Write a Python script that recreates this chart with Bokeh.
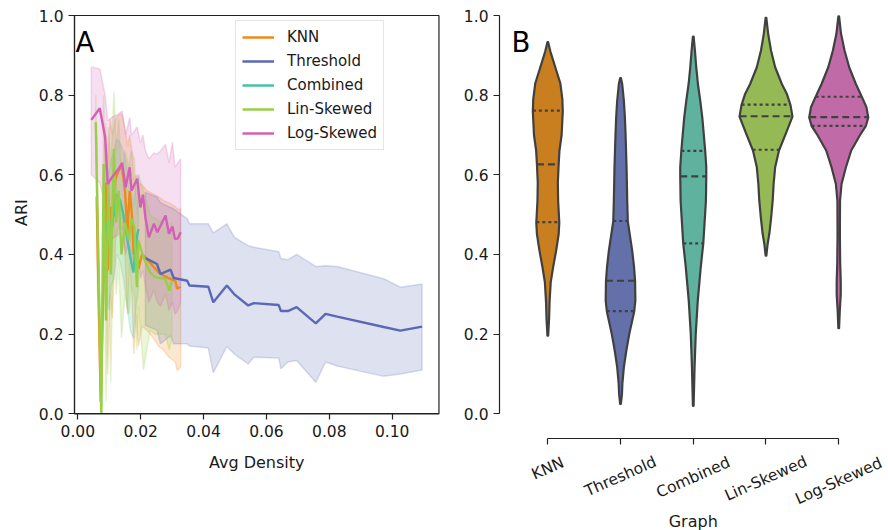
import numpy as np
from bokeh.plotting import figure
from bokeh.models import (Range1d, FixedTicker, PrintfTickFormatter, Label, Legend, LegendItem,
                          BoxAnnotation, CustomLabelingPolicy)
from bokeh.layouts import row
from bokeh.embed import file_html
from bokeh.resources import INLINE

FONT = "DejaVu Sans"

# ---------------- data ----------------
series_names = ["KNN", "Threshold", "Combined", "Lin-Skewed", "Log-Skewed"]
line_colors = ["#ee8a18", "#5b68b6", "#47c2a3", "#97cf46", "#d35fb7"]
violin_colors = ["#c97f20", "#6370a9", "#5fb39e", "#95ba55", "#c06ba7"]

x_ticks = [0.00, 0.02, 0.04, 0.06, 0.08, 0.10]
y_ticks = [0.0, 0.2, 0.4, 0.6, 0.8, 1.0]
x_limits = (-0.00105, 0.11487)     # panel A axes box
y_limits = (0.0, 1.0)

# Panel A: mean ARI and band (lower/upper) vs avg density
knn_x = [0.0060, 0.0073, 0.0088, 0.0095, 0.0103, 0.0110, 0.0120, 0.0130, 0.0140, 0.0150, 0.0158, 0.0165,
         0.0172, 0.0178, 0.0186, 0.0193, 0.0204, 0.0220, 0.0240, 0.0257, 0.0273, 0.0290, 0.0310, 0.0316, 0.0327]
knn_y = [0.545, 0.030, 0.580, 0.360, 0.520, 0.470, 0.590, 0.610, 0.625, 0.560, 0.455, 0.560,
         0.500, 0.400, 0.450, 0.364, 0.400, 0.389, 0.370, 0.355, 0.347, 0.340, 0.334, 0.314, 0.319]
knn_lo = [0.390, 0.000, 0.430, 0.100, 0.300, 0.240, 0.440, 0.470, 0.500, 0.400, 0.250, 0.380,
          0.300, 0.150, 0.250, 0.170, 0.220, 0.210, 0.190, 0.170, 0.160, 0.142, 0.130, 0.109, 0.117]
knn_hi = [0.700, 0.060, 0.730, 0.620, 0.740, 0.700, 0.740, 0.750, 0.753, 0.720, 0.670, 0.700,
          0.660, 0.585, 0.600, 0.580, 0.575, 0.560, 0.552, 0.545, 0.535, 0.530, 0.520, 0.514, 0.514]

thr_x = [0.0215, 0.0252, 0.0263, 0.0295, 0.0305, 0.0348, 0.0355, 0.0415, 0.0431, 0.0474, 0.0498, 0.0542,
         0.0560, 0.0639, 0.0646, 0.0668, 0.0696, 0.0757, 0.0788, 0.0825, 0.0973, 0.1026, 0.1095]
thr_y = [0.391, 0.376, 0.351, 0.362, 0.341, 0.334, 0.322, 0.319, 0.280, 0.322, 0.300, 0.272,
         0.278, 0.273, 0.258, 0.258, 0.268, 0.227, 0.251, 0.244, 0.218, 0.209, 0.219]
thr_lo = [0.222, 0.210, 0.176, 0.196, 0.176, 0.176, 0.170, 0.165, 0.103, 0.169, 0.150, 0.125,
          0.142, 0.140, 0.113, 0.130, 0.134, 0.079, 0.130, 0.120, 0.094, 0.100, 0.110]
thr_hi = [0.556, 0.544, 0.530, 0.518, 0.514, 0.490, 0.477, 0.477, 0.454, 0.477, 0.443, 0.422,
          0.418, 0.407, 0.390, 0.387, 0.400, 0.370, 0.372, 0.370, 0.339, 0.318, 0.326]

com_x = [0.0080, 0.0086, 0.0092, 0.0099, 0.0106, 0.0115, 0.0124, 0.0135, 0.0145, 0.0155, 0.0167, 0.0177, 0.0185, 0.0193]
com_y = [0.440, 0.485, 0.460, 0.427, 0.481, 0.500, 0.552, 0.535, 0.500, 0.452, 0.393, 0.355, 0.435, 0.464]
com_lo = [0.280, 0.340, 0.300, 0.260, 0.320, 0.340, 0.400, 0.380, 0.340, 0.280, 0.210, 0.190, 0.270, 0.310]
com_hi = [0.600, 0.620, 0.630, 0.600, 0.640, 0.660, 0.690, 0.680, 0.660, 0.620, 0.580, 0.520, 0.580, 0.600]

lin_x = [0.0057, 0.0075, 0.0082, 0.0090, 0.0097, 0.0105, 0.0115, 0.0122, 0.0130, 0.0139, 0.0150,
         0.0162, 0.0170, 0.0180, 0.0188, 0.0193, 0.0209, 0.0230, 0.0246, 0.0278, 0.0291, 0.0299]
lin_y = [0.732, 0.000, 0.627, 0.234, 0.580, 0.350, 0.665, 0.480, 0.560, 0.400, 0.480,
         0.435, 0.490, 0.470, 0.318, 0.435, 0.393, 0.355, 0.343, 0.339, 0.309, 0.334]
lin_lo = [0.660, 0.000, 0.450, 0.030, 0.440, 0.080, 0.520, 0.300, 0.380, 0.190, 0.300,
          0.250, 0.320, 0.300, 0.160, 0.270, 0.110, 0.210, 0.200, 0.200, 0.160, 0.190]
lin_hi = [0.800, 0.050, 0.800, 0.500, 0.720, 0.620, 0.810, 0.660, 0.740, 0.600, 0.660,
          0.620, 0.660, 0.640, 0.500, 0.600, 0.560, 0.500, 0.490, 0.480, 0.460, 0.480]

log_x = [0.0043, 0.0070, 0.0087, 0.0095, 0.0109, 0.0130, 0.0141, 0.0152, 0.0165, 0.0171, 0.0189, 0.0199,
         0.0207, 0.0215, 0.0226, 0.0242, 0.0253, 0.0263, 0.0279, 0.0290, 0.0301, 0.0309, 0.0318, 0.0327]
log_y = [0.738, 0.767, 0.694, 0.577, 0.594, 0.615, 0.630, 0.569, 0.619, 0.560, 0.590, 0.518,
         0.550, 0.493, 0.443, 0.477, 0.456, 0.472, 0.498, 0.452, 0.470, 0.439, 0.440, 0.456]
log_lo = [0.600, 0.580, 0.520, 0.430, 0.440, 0.450, 0.470, 0.400, 0.450, 0.380, 0.420, 0.340,
          0.360, 0.320, 0.280, 0.310, 0.280, 0.270, 0.300, 0.260, 0.280, 0.250, 0.260, 0.280]
log_hi = [0.871, 0.866, 0.800, 0.736, 0.745, 0.753, 0.760, 0.700, 0.744, 0.700, 0.720, 0.680,
          0.700, 0.661, 0.640, 0.655, 0.652, 0.660, 0.677, 0.630, 0.682, 0.619, 0.630, 0.640]

# Panel B: violin outlines (ARI level, half-width) and quartiles (q1, median, q3)
knn_vy = [0.196, 0.24, 0.28, 0.33, 0.37, 0.41, 0.452, 0.48, 0.535, 0.58, 0.625, 0.66, 0.70, 0.76, 0.79, 0.83, 0.87, 0.91, 0.933]
knn_vw = [0.005, 0.018, 0.024, 0.040, 0.075, 0.115, 0.150, 0.158, 0.142, 0.138, 0.149, 0.160, 0.190, 0.206, 0.200, 0.172, 0.103, 0.035, 0.005]
knn_q = [0.481, 0.626, 0.761]

thr_vy = [0.025, 0.05, 0.075, 0.117, 0.159, 0.20, 0.257, 0.284, 0.334, 0.37, 0.41, 0.483, 0.535, 0.619, 0.703, 0.744, 0.786, 0.828, 0.843]
thr_vw = [0.005, 0.020, 0.025, 0.046, 0.080, 0.120, 0.188, 0.204, 0.200, 0.185, 0.160, 0.100, 0.092, 0.083, 0.069, 0.060, 0.046, 0.023, 0.005]
thr_q = [0.258, 0.334, 0.484]

com_vy = [0.02, 0.117, 0.20, 0.284, 0.368, 0.428, 0.535, 0.595, 0.619, 0.658, 0.703, 0.744, 0.786, 0.828, 0.87, 0.912, 0.947]
com_vw = [0.005, 0.018, 0.034, 0.062, 0.103, 0.138, 0.174, 0.179, 0.179, 0.165, 0.144, 0.124, 0.096, 0.064, 0.041, 0.023, 0.005]
com_q = [0.428, 0.596, 0.660]

lin_vy = [0.397, 0.427, 0.452, 0.493, 0.535, 0.577, 0.619, 0.661, 0.703, 0.746, 0.775, 0.803, 0.828, 0.87, 0.912, 0.954, 0.994]
lin_vw = [0.005, 0.023, 0.046, 0.071, 0.092, 0.105, 0.126, 0.179, 0.271, 0.364, 0.337, 0.287, 0.218, 0.126, 0.069, 0.030, 0.005]
lin_q = [0.663, 0.747, 0.776]

log_vy = [0.215, 0.26, 0.30, 0.33, 0.38, 0.45, 0.535, 0.577, 0.619, 0.661, 0.703, 0.723, 0.744, 0.77, 0.795, 0.828, 0.87, 0.912, 0.954, 0.998]
log_vw = [0.005, 0.015, 0.028, 0.028, 0.020, 0.016, 0.018, 0.039, 0.099, 0.172, 0.303, 0.374, 0.406, 0.381, 0.320, 0.236, 0.144, 0.080, 0.032, 0.005]
log_q = [0.723, 0.745, 0.796]

lines_data = [
    (knn_x, knn_y, knn_lo, knn_hi),
    (thr_x, thr_y, thr_lo, thr_hi),
    (com_x, com_y, com_lo, com_hi),
    (lin_x, lin_y, lin_lo, lin_hi),
    (log_x, log_y, log_lo, log_hi),
]
violins = [
    (knn_vy, knn_vw, knn_q),
    (thr_vy, thr_vw, thr_q),
    (com_vy, com_vw, com_q),
    (lin_vy, lin_vw, lin_q),
    (log_vy, log_vw, log_q),
]

# ---------------- layout constants (pixels) ----------------
H = 530
W1, W2 = 460, 428
Y1_PX, Y0_PX = 15.0, 413.3            # screen rows of ARI = 1 and ARI = 0
PY = (Y0_PX - Y1_PX)                  # px per ARI unit
Y_RANGE = (1.0 - (H - Y1_PX) / PY, 1.0 + Y1_PX / PY)   # frames fill the whole page height
A_X0_PX, A_PX = 77.3, 3144.0          # panel A: px of density 0, px per density unit
B_X0_PX, B_PX, B_LEFT = 547.3 - W1, 72.73, 39   # panel B: px of first category, px per category
TEXT = "#1a1a1a"
SPINE = "#222222"
TICK_FS = "15.5px"
LABEL_FS = "16px"


def style_axis(ax):
    ax.axis_line_color = SPINE
    ax.axis_line_width = 1.2
    ax.major_tick_line_color = SPINE
    ax.major_tick_line_width = 1.2
    ax.major_tick_out = 6
    ax.major_tick_in = 0
    ax.minor_tick_out = 0
    ax.minor_tick_in = 0
    ax.major_label_text_font = FONT
    ax.major_label_text_font_size = TICK_FS
    ax.major_label_text_color = TEXT


# ---------------- Panel A ----------------
p1 = figure(width=W1, height=H,
            x_range=Range1d(-A_X0_PX / A_PX, (W1 - A_X0_PX) / A_PX), y_range=Range1d(*Y_RANGE),
            output_backend="svg", toolbar_location=None,
            min_border_left=0, min_border_right=0, min_border_top=0, min_border_bottom=0)
p1.grid.visible = False
p1.outline_line_color = None
p1.background_fill_color = "white"
p1.border_fill_color = "white"

for ax in (p1.xaxis[0], p1.yaxis[0]):
    style_axis(ax)
p1.xaxis.ticker = FixedTicker(ticks=x_ticks)
p1.xaxis.formatter = PrintfTickFormatter(format="%.2f")
p1.xaxis.fixed_location = y_limits[0]
p1.xaxis.bounds = x_limits
p1.yaxis.ticker = FixedTicker(ticks=y_ticks)
p1.yaxis.formatter = PrintfTickFormatter(format="%.1f")
p1.yaxis.fixed_location = x_limits[0]
p1.yaxis.bounds = y_limits
p1.xaxis.major_label_standoff = 5
p1.yaxis.major_label_standoff = 5

# axes box of panel A
p1.add_layout(BoxAnnotation(left=x_limits[0], right=x_limits[1], bottom=y_limits[0], top=y_limits[1],
                            fill_alpha=0, line_color=SPINE, line_alpha=1, line_width=1.2, level="overlay"))

items = []
for name, col, (xs, ys, lo, hi) in zip(series_names, line_colors, lines_data):
    xs = np.asarray(xs)
    px = np.concatenate([xs, xs[::-1]])
    py = np.concatenate([np.asarray(hi), np.asarray(lo)[::-1]])
    p1.patch(px, py, fill_color=col, fill_alpha=0.2, line_color=col, line_alpha=0.22, line_width=1.5)
for name, col, (xs, ys, lo, hi) in zip(series_names, line_colors, lines_data):
    r = p1.line(xs, ys, line_color=col, line_width=2.4)
    items.append(LegendItem(label=name, renderers=[r]))

legend = Legend(items=items, location=(235, H - 24 - 126))
legend.label_text_font = FONT
legend.label_text_font_size = "15px"
legend.label_text_color = TEXT
legend.glyph_width = 32
legend.glyph_height = 20
legend.label_height = 20
legend.label_standoff = 13
legend.spacing = 4
legend.padding = 6
legend.margin = 0
legend.border_line_color = "#cccccc"
legend.border_line_width = 1.2
legend.background_fill_alpha = 0.85
p1.add_layout(legend)

# axis titles of panel A
p1.add_layout(Label(x=(x_limits[0] + x_limits[1]) / 2, y=-(462 - Y0_PX) / PY, text="Avg Density",
                    text_align="center", text_baseline="middle",
                    text_font=FONT, text_font_size=LABEL_FS, text_color=TEXT))
p1.add_layout(Label(x=(21 - A_X0_PX) / A_PX, y=(y_limits[0] + y_limits[1]) / 2 + 0.005, text="ARI",
                    angle=90, angle_units="deg", text_align="center", text_baseline="middle",
                    text_font=FONT, text_font_size=LABEL_FS, text_color=TEXT))
p1.add_layout(Label(x=75, y=(Y0_PX - 41.7) / PY, x_units="screen", y_units="data", text="A",
                    text_font=FONT, text_font_size="27.5px", text_color="black",
                    text_baseline="alphabetic"))

# ---------------- Panel B ----------------
p2 = figure(width=W2, height=H,
            x_range=Range1d((B_LEFT - B_X0_PX) / B_PX, (W2 - B_X0_PX) / B_PX), y_range=Range1d(*Y_RANGE),
            output_backend="svg", toolbar_location=None,
            min_border_left=B_LEFT, min_border_right=0, min_border_top=0, min_border_bottom=0)
p2.grid.visible = False
p2.outline_line_color = None
p2.background_fill_color = "white"
p2.border_fill_color = "white"
for ax in (p2.xaxis[0], p2.yaxis[0]):
    style_axis(ax)
p2.yaxis.ticker = FixedTicker(ticks=y_ticks)
p2.yaxis.formatter = PrintfTickFormatter(format="%.1f")
p2.yaxis.bounds = y_limits
p2.yaxis.major_label_standoff = 5
p2.xaxis.ticker = FixedTicker(ticks=list(range(len(series_names))))
p2.xaxis.bounds = (0, len(series_names) - 1)
p2.xaxis.fixed_location = -24.4 / PY          # spine offset below the data area
p2.xaxis.major_label_policy = CustomLabelingPolicy(
    code="for (const i of Array.from(indices)) { indices.unset(i) }; return indices")

EDGE = "#404040"
for i, (col, (vy, vw, q)) in enumerate(zip(violin_colors, violins)):
    vy = np.asarray(vy)
    vw = np.asarray(vw)
    px = np.concatenate([i + vw, (i - vw)[::-1]])
    py = np.concatenate([vy, vy[::-1]])
    p2.patch(px, py, fill_color=col, line_color=EDGE, line_width=2.2, line_join="round")
    for k, qv in enumerate(q):
        hw = float(np.interp(qv, vy, vw))
        dash = "7 4" if k == 1 else "3 3"
        p2.line([i - hw, i + hw], [qv, qv], line_color=EDGE, line_width=2.2, line_dash=dash)

# rotated category labels, centred under each tick (matplotlib style)
label_drop = [7, 15, 16, 17, 19.5]   # extra drop of each rotated label's centre, px
for i, (name, dy) in enumerate(zip(series_names, label_drop)):
    p2.add_layout(Label(x=i, y=-(47.7 + dy) / PY, text=name,
                        angle=24, angle_units="deg", text_align="center", text_baseline="middle",
                        text_font=FONT, text_font_size=TICK_FS, text_color=TEXT))
p2.add_layout(Label(x=(len(series_names) - 1) / 2, y=-107.7 / PY, text="Graph",
                    text_align="center", text_baseline="middle",
                    text_font=FONT, text_font_size=LABEL_FS, text_color=TEXT))
p2.add_layout(Label(x=12, y=(Y0_PX - 41.7) / PY, x_units="screen", y_units="data", text="B",
                    text_font=FONT, text_font_size="27.5px", text_color="black",
                    text_baseline="alphabetic"))

layout = row(p1, p2)
open("out.html", "w").write(file_html(layout, INLINE))
